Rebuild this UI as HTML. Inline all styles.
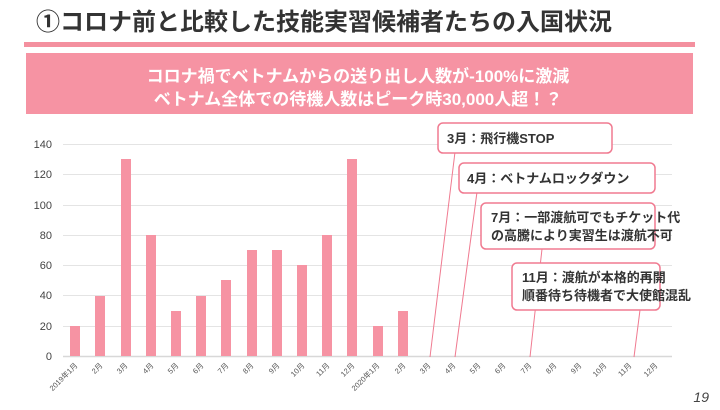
<!DOCTYPE html>
<html><head><meta charset="utf-8"><style>
body{margin:0;width:720px;height:405px;background:#fff;overflow:hidden;font-family:"Liberation Sans","Noto Sans CJK JP",sans-serif}
</style></head><body>
<svg width="720" height="405" xmlns="http://www.w3.org/2000/svg" font-family="Liberation Sans, Noto Sans CJK JP, sans-serif">
<text x="36" y="30" font-size="24" font-weight="bold" fill="#333" textLength="576">①コロナ前と比較した技能実習候補者たちの入国状況</text>
<rect x="24" y="42" width="671" height="5" fill="#f4909f"/>
<rect x="26" y="53" width="667" height="61" fill="#f693a3"/>
<text x="358" y="82" font-size="17" font-weight="bold" fill="#fff" text-anchor="middle">コロナ禍でベトナムからの送り出し人数が-100%に激減</text>
<text x="358" y="105" font-size="17" font-weight="bold" fill="#fff" text-anchor="middle">ベトナム全体での待機人数はピーク時30,000人超！？</text>
<g stroke="#e4e4e4" stroke-width="1">
<line x1="63" y1="144.5" x2="672" y2="144.5"/><line x1="63" y1="174.5" x2="672" y2="174.5"/>
<line x1="63" y1="205.5" x2="672" y2="205.5"/><line x1="63" y1="235.5" x2="672" y2="235.5"/>
<line x1="63" y1="265.5" x2="672" y2="265.5"/><line x1="63" y1="295.5" x2="672" y2="295.5"/>
<line x1="63" y1="326.5" x2="672" y2="326.5"/>
</g>
<line x1="63" y1="356.5" x2="672" y2="356.5" stroke="#d8d8d8" stroke-width="1.5"/>
<g font-size="11" fill="#444" text-anchor="end">
<text x="52" y="148">140</text><text x="52" y="178">120</text><text x="52" y="209">100</text>
<text x="52" y="239">80</text><text x="52" y="269">60</text><text x="52" y="299">40</text>
<text x="52" y="330">20</text><text x="52" y="360">0</text>
</g>
<g fill="#f693a3">
<rect x="70" y="326" width="10" height="30"/>
<rect x="95" y="296" width="10" height="60"/>
<rect x="121" y="159" width="10" height="197"/>
<rect x="146" y="235" width="10" height="121"/>
<rect x="171" y="311" width="10" height="45"/>
<rect x="196" y="296" width="10" height="60"/>
<rect x="221" y="280" width="10" height="76"/>
<rect x="247" y="250" width="10" height="106"/>
<rect x="272" y="250" width="10" height="106"/>
<rect x="297" y="265" width="10" height="91"/>
<rect x="322" y="235" width="10" height="121"/>
<rect x="347" y="159" width="10" height="197"/>
<rect x="373" y="326" width="10" height="30"/>
<rect x="398" y="311" width="10" height="45"/>
</g>
<g font-size="7.5" fill="#555" text-anchor="end">
<text transform="translate(78,366) rotate(-45)">2019年1月</text>
<text transform="translate(103,366) rotate(-45)">2月</text>
<text transform="translate(128,366) rotate(-45)">3月</text>
<text transform="translate(154,366) rotate(-45)">4月</text>
<text transform="translate(179,366) rotate(-45)">5月</text>
<text transform="translate(204,366) rotate(-45)">6月</text>
<text transform="translate(229,366) rotate(-45)">7月</text>
<text transform="translate(254,366) rotate(-45)">8月</text>
<text transform="translate(280,366) rotate(-45)">9月</text>
<text transform="translate(305,366) rotate(-45)">10月</text>
<text transform="translate(330,366) rotate(-45)">11月</text>
<text transform="translate(355,366) rotate(-45)">12月</text>
<text transform="translate(380,366) rotate(-45)">2020年1月</text>
<text transform="translate(406,366) rotate(-45)">2月</text>
<text transform="translate(431,366) rotate(-45)">3月</text>
<text transform="translate(456,366) rotate(-45)">4月</text>
<text transform="translate(481,366) rotate(-45)">5月</text>
<text transform="translate(506,366) rotate(-45)">6月</text>
<text transform="translate(532,366) rotate(-45)">7月</text>
<text transform="translate(557,366) rotate(-45)">8月</text>
<text transform="translate(582,366) rotate(-45)">9月</text>
<text transform="translate(607,366) rotate(-45)">10月</text>
<text transform="translate(632,366) rotate(-45)">11月</text>
<text transform="translate(658,366) rotate(-45)">12月</text>
</g>
<g stroke="#f07a90" stroke-width="1" fill="none">
<line x1="455" y1="152" x2="430" y2="357"/>
<line x1="477" y1="192" x2="455" y2="357"/>
<line x1="542" y1="249" x2="530" y2="357"/>
<line x1="640" y1="310" x2="634" y2="357"/>
</g>
<g fill="#fff" stroke="#f07a90" stroke-width="1.5">
<rect x="438" y="123" width="174" height="30" rx="5"/>
<rect x="459" y="163" width="196" height="30" rx="5"/>
<rect x="481" y="203" width="174" height="46" rx="5"/>
<rect x="512" y="263" width="148" height="47" rx="5"/>
</g>
<g font-size="13" font-weight="bold" fill="#333">
<text x="447" y="143">3月：飛行機STOP</text>
<text x="467" y="183">4月：ベトナムロックダウン</text>
<text x="491" y="222">7月：一部渡航可でもチケット代</text>
<text x="491" y="240">の高騰により実習生は渡航不可</text>
<text x="522" y="282">11月：渡航が本格的再開</text>
<text x="522" y="300">順番待ち待機者で大使館混乱</text>
</g>
<text x="709" y="402" font-size="14" font-style="italic" fill="#444" text-anchor="end">19</text>
</svg>
</body></html>
